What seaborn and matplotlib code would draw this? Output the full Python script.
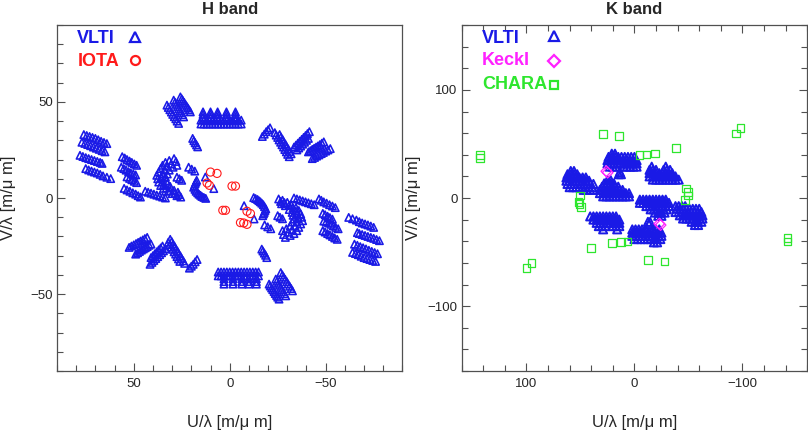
import matplotlib
matplotlib.use('Agg')
import pandas as pd
import matplotlib.pyplot as plt
from matplotlib.ticker import MultipleLocator
import seaborn as sns

# uv points, (U/lambda, V/lambda) in m/um
vlti_h = [
    # upper / left half
    (76, 33), (74.5, 32.5), (73, 32), (71.5, 31.5), (70, 31), (68.5, 30.3), (67, 29.5), (65.5, 28.9), (64, 28.3),
    (77, 29), (75.5, 28.4), (74, 27.8), (72.5, 27.2), (71, 26.5), (69.5, 25.9), (68, 25.3), (66.5, 24.6), (65, 24),
    (78, 22.2), (76.5, 21.6), (75, 21), (73.5, 20.5), (72, 20), (70.5, 19.5), (69, 19), (67.5, 18.5), (66.5, 18),
    (75, 15.3), (73.5, 14.6), (72, 14), (70.5, 13.5), (69, 13), (67.5, 12.3), (66, 11.5), (64, 10.8), (62, 10.1),
    (56, 21.5), (54.7, 20.8), (53.5, 20), (52.2, 19.2), (51, 18.5), (49.7, 17.7), (48.5, 17),
    (56.5, 16), (55.2, 15.3), (54, 14.5), (52.7, 13.7), (51.5, 13), (50.2, 12.5), (49, 12),
    (53.5, 11), (52.2, 10.2), (51, 9.5), (49.7, 8.7), (48.5, 8),
    (55, 5), (53.5, 4.2), (52, 3.5), (50.5, 2.7), (49, 2), (47.7, 1.2), (46.5, 0.5),
    (44, 3.5), (42.5, 3), (41, 2.5), (39.5, 2), (38, 1.5), (36.5, 1), (35, 0.5), (33.5, 0),
    (29, 20.5), (31.5, 19.5), (33.5, 18.5), (35, 17), (36, 15.3), (37, 13.5),
    (38, 11.8), (37.5, 10), (37, 8.3), (36, 6.5), (34.5, 5), (32, 3.5),
    (30, 2.3), (27.5, 1.2), (25.5, 0.5),
    (28, 19), (30.5, 17.8), (32.5, 16.5), (34, 14.5), (35, 12.5), (35.5, 10.5),
    (35, 8.5), (34.5, 6.8), (33, 5.2), (31, 3.8), (28.5, 2.4), (26.5, 1.8),
    (27.5, 17), (29.5, 16), (31.5, 14.5), (32.5, 12.5), (33.5, 11), (33, 9),
    (32.5, 7.5), (31, 6), (29, 4), (27, 3),
    (27.5, 10.8), (26.2, 10), (25, 9.2), (21.4, 16), (19.8, 15), (18.2, 14),
    (19.3, 31), (18.7, 29.8), (18, 28.7), (17.3, 27.6), (16.7, 26.6),
    (17.2, 9.2), (17.6, 8.3), (18, 7.5), (18.4, 6.5), (18.8, 5.6), (18.1, 4.5),
    (17.5, 3.5), (16.7, 2.7), (16, 2), (15.2, 1.4), (14.5, 0.8), (13.5, 0.3),
    (12.5, -0.2), (12.7, 10.9), (8.3, 4.9),
    (15, 38.5), (13.5, 38.5), (12, 38.5), (10.5, 38.5), (9, 38.5), (7.5, 38.5), (6, 38.5), (4.5, 38.5),
    (3, 38.5), (1.5, 38.5), (0, 38.5), (-1.5, 38.5), (-3, 38.5), (-4.5, 38.5), (-6, 38.5),
    (15, 40.5), (13.5, 40.5), (12, 40.5), (10.5, 40.5), (9, 40.5), (7.5, 40.5), (6, 40.5), (4.5, 40.5),
    (3, 40.5), (1.5, 40.5), (0, 40.5), (-1.5, 40.5), (-3, 40.5), (-4.5, 40.5), (-6, 40.5),
    (13.9, 42), (13.9, 43.5), (13.9, 44.8), (10, 42), (10, 43.5), (10, 44.8),
    (6.3, 42), (6.3, 43.5), (6.3, 44.8), (1.7, 42), (1.7, 43.5), (1.7, 44.8),
    (-3, 42), (-3, 43.5), (-3, 44.8),
    (32.7, 48.3), (32, 47.1), (31.2, 45.9), (30.4, 44.7), (29.7, 43.5), (28.9, 42.3), (28.1, 41.2), (27.4, 40), (26.6, 38.8),
    (29.2, 50.9), (28.5, 49.8), (27.9, 48.7), (27.2, 47.6), (26.6, 46.5), (25.9, 45.4), (25.3, 44.4), (24.6, 43.3), (24, 42.2),
    (25.7, 52.6), (25, 51.6), (24.4, 50.7), (23.7, 49.7), (23.1, 48.7), (22.4, 47.7), (21.8, 46.8), (21.1, 45.8), (20.5, 44.8),
    (-17, 32), (-18, 33.2), (-19, 34.5), (-20, 35.5), (-21, 36.5),
    (-23.5, 34), (-24.2, 32.7), (-25, 31.5), (-25.7, 30.2), (-26.5, 29), (-27.2, 27.7),
    (-28, 26.5), (-28.7, 25.2), (-29.5, 24), (-30.2, 22.7), (-31, 21.5),
    (-26, 33), (-26.7, 31.7), (-27.5, 30.5), (-28.2, 29.2), (-29, 28), (-29.7, 26.7),
    (-30.5, 25.5), (-31.2, 24.2), (-32, 23),
    (-33.5, 26.5), (-34.5, 27.5), (-35.5, 28.5), (-36.5, 29.5), (-37.5, 30.5),
    (-38.5, 31.5), (-39.5, 32.5), (-40.5, 33.5), (-41.5, 34.5),
    (-35, 25), (-36, 26), (-37, 27), (-38, 28), (-39, 29), (-40, 30), (-41, 31),
    (-41, 24), (-42, 24.6), (-43, 25.3), (-44, 25.9), (-45, 26.5), (-46, 27.1),
    (-47, 27.8), (-48, 28.5), (-49, 29.2),
    (-43, 20.5), (-44.2, 21.1), (-45.3, 21.8), (-46.5, 22.4), (-47.7, 23.1),
    (-48.8, 23.7), (-50, 24.4), (-51.2, 25), (-52.4, 25.7),
    # lower / right half
    (-76, -33), (-74.5, -32.5), (-73, -32), (-71.5, -31.5), (-70, -31), (-68.5, -30.3), (-67, -29.5), (-65.5, -28.9), (-64, -28.3),
    (-77, -29), (-75.5, -28.4), (-74, -27.8), (-72.5, -27.2), (-71, -26.5), (-69.5, -25.9), (-68, -25.3), (-66.5, -24.6), (-65, -24),
    (-78, -22.2), (-76.5, -21.6), (-75, -21), (-73.5, -20.5), (-72, -20), (-70.5, -19.5), (-69, -19), (-67.5, -18.5), (-66.5, -18),
    (-75, -15.3), (-73.5, -14.6), (-72, -14), (-70.5, -13.5), (-69, -13), (-67.5, -12.3), (-66, -11.5), (-64, -10.8), (-62, -10.1),
    (-56, -21.5), (-54.7, -20.8), (-53.5, -20), (-52.2, -19.2), (-51, -18.5), (-49.7, -17.7), (-48.5, -17),
    (-56.5, -16), (-55.2, -15.3), (-54, -14.5), (-52.7, -13.7), (-51.5, -13), (-50.2, -12.5), (-49, -12),
    (-53.5, -11), (-52.2, -10.2), (-51, -9.5), (-49.7, -8.7), (-48.5, -8),
    (-55, -5), (-53.5, -4.2), (-52, -3.5), (-50.5, -2.7), (-49, -2), (-47.7, -1.2), (-46.5, -0.5),
    (-44, -3.5), (-42.5, -3), (-41, -2.5), (-39.5, -2), (-38, -1.5), (-36.5, -1), (-35, -0.5), (-33.5, 0),
    (-29, -20.5), (-31.5, -19.5), (-33.5, -18.5), (-35, -17), (-36, -15.3), (-37, -13.5),
    (-38, -11.8), (-37.5, -10), (-37, -8.3), (-36, -6.5), (-34.5, -5), (-32, -3.5),
    (-30, -2.3), (-27.5, -1.2), (-25.5, -0.5),
    (-28, -19), (-30.5, -17.8), (-32.5, -16.5), (-34, -14.5), (-35, -12.5), (-35.5, -10.5),
    (-35, -8.5), (-34.5, -6.8), (-33, -5.2), (-31, -3.8), (-28.5, -2.4), (-26.5, -1.8),
    (-27.5, -17), (-29.5, -16), (-31.5, -14.5), (-32.5, -12.5), (-33.5, -11), (-33, -9),
    (-32.5, -7.5), (-31, -6), (-29, -4), (-27, -3),
    (-27.5, -10.8), (-26.2, -10), (-25, -9.2), (-21.4, -16), (-19.8, -15), (-18.2, -14),
    (-19.3, -31), (-18.7, -29.8), (-18, -28.7), (-17.3, -27.6), (-16.7, -26.6),
    (-17.2, -9.2), (-17.6, -8.3), (-18, -7.5), (-18.4, -6.5), (-18.8, -5.6), (-18.1, -4.5),
    (-17.5, -3.5), (-16.7, -2.7), (-16, -2), (-15.2, -1.4), (-14.5, -0.8), (-13.5, -0.3),
    (-12.5, 0.2), (-12.7, -10.9), (-7.5, -4),
    (-15, -38.5), (-13.5, -38.5), (-12, -38.5), (-10.5, -38.5), (-9, -38.5), (-7.5, -38.5), (-6, -38.5), (-4.5, -38.5),
    (-3, -38.5), (-1.5, -38.5), (0, -38.5), (1.5, -38.5), (3, -38.5), (4.5, -38.5), (6, -38.5),
    (-15, -40.5), (-13.5, -40.5), (-12, -40.5), (-10.5, -40.5), (-9, -40.5), (-7.5, -40.5), (-6, -40.5), (-4.5, -40.5),
    (-3, -40.5), (-1.5, -40.5), (0, -40.5), (1.5, -40.5), (3, -40.5), (4.5, -40.5), (6, -40.5),
    (-13.9, -42), (-13.9, -43.5), (-13.9, -44.8), (-10, -42), (-10, -43.5), (-10, -44.8),
    (-6.3, -42), (-6.3, -43.5), (-6.3, -44.8), (-1.7, -42), (-1.7, -43.5), (-1.7, -44.8),
    (3, -42), (3, -43.5), (3, -44.8),
    (-32.7, -48.3), (-32, -47.1), (-31.2, -45.9), (-30.4, -44.7), (-29.7, -43.5), (-28.9, -42.3), (-28.1, -41.2), (-27.4, -40), (-26.6, -38.8),
    (-29.2, -50.9), (-28.5, -49.8), (-27.9, -48.7), (-27.2, -47.6), (-26.6, -46.5), (-25.9, -45.4), (-25.3, -44.4), (-24.6, -43.3), (-24, -42.2),
    (-25.7, -52.6), (-25, -51.6), (-24.4, -50.7), (-23.7, -49.7), (-23.1, -48.7), (-22.4, -47.7), (-21.8, -46.8), (-21.1, -45.8), (-20.5, -44.8),
    (17, -32), (18, -33.2), (19, -34.5), (20, -35.5), (21, -36.5),
    (23.5, -34), (24.2, -32.7), (25, -31.5), (25.7, -30.2), (26.5, -29), (27.2, -27.7),
    (28, -26.5), (28.7, -25.2), (29.5, -24), (30.2, -22.7), (31, -21.5),
    (26, -33), (26.7, -31.7), (27.5, -30.5), (28.2, -29.2), (29, -28), (29.7, -26.7),
    (30.5, -25.5), (31.2, -24.2), (32, -23),
    (33.5, -26.5), (34.5, -27.5), (35.5, -28.5), (36.5, -29.5), (37.5, -30.5),
    (38.5, -31.5), (39.5, -32.5), (40.5, -33.5), (41.5, -34.5),
    (35, -25), (36, -26), (37, -27), (38, -28), (39, -29), (40, -30), (41, -31),
    (41, -24), (42, -24.6), (43, -25.3), (44, -25.9), (45, -26.5), (46, -27.1),
    (47, -27.8), (48, -28.5), (49, -29.2),
    (43, -20.5), (44.2, -21.1), (45.3, -21.8), (46.5, -22.4), (47.7, -23.1),
    (48.8, -23.7), (50, -24.4), (51.2, -25), (52.4, -25.7),
]

iota_h = [
    (10, 13.5), (6.6, 12.8), (11.8, 7.8), (10.6, 6.6), (-1.2, 6.2), (-3, 6.2),
    (3.6, -6.4), (2.2, -6.4), (-9, -6.9), (-10.8, -8.1), (-5.6, -12.8),
    (-7.3, -13), (-9, -13.7),
]

# K band VLTI blobs, as rows: (V, [U, ...])
vlti_k_rows = [
    (25, [59, 56]),
    (22, [62, 59, 56, 53]),
    (19, [63, 60, 57, 54, 51, 48, 45]),
    (16, [63, 60, 57, 54, 51, 48, 45, 42]),
    (13, [62, 59, 56, 53, 50, 47, 44, 41, 38]),
    (10, [60, 57, 54, 51, 48, 45, 42, 39]),
    (7.5, [47, 44, 41, 38]),
    (16.5, [25, 22]),
    (13.5, [28, 25, 22, 19]),
    (10.5, [30, 27, 24, 21, 18, 15]),
    (7.5, [32, 29, 26, 23, 20, 17, 14, 11]),
    (4.5, [32, 29, 26, 23, 20, 17, 14, 11, 8, 5]),
    (1.5, [29, 26, 23, 20, 17, 14, 11, 8, 5]),
    (41, [21, 18]),
    (38, [24, 21, 18, 15, 12, 9, 6, 3, 0]),
    (35, [25, 22, 19, 16, 13, 10, 7, 4, 1, -2]),
    (32, [25, 22, 19, 16, 13, 10, 7, 4, 1, -2]),
    (29, [23, 20, 17, 10, 7, 4, 1, -2]),
    (24, [13.5]), (22, [12.5, 14.5]),
    (29, [-16, -29]),
    (26, [-14, -17, -20, -27, -30, -33]),
    (23, [-14, -17, -20, -23, -26, -29, -32, -35]),
    (20, [-14, -17, -20, -23, -26, -29, -32, -35, -38]),
    (17, [-17, -20, -23, -26, -29, -32, -35, -38, -41]),
    (-25, [-59, -56]),
    (-22, [-62, -59, -56, -53]),
    (-19, [-63, -60, -57, -54, -51, -48, -45]),
    (-16, [-63, -60, -57, -54, -51, -48, -45, -42]),
    (-13, [-62, -59, -56, -53, -50, -47, -44, -41, -38]),
    (-10, [-60, -57, -54, -51, -48, -45, -42, -39]),
    (-7.5, [-47, -44, -41, -38]),
    (-16.5, [-25, -22]),
    (-13.5, [-28, -25, -22, -19]),
    (-10.5, [-30, -27, -24, -21, -18, -15]),
    (-7.5, [-32, -29, -26, -23, -20, -17, -14, -11]),
    (-4.5, [-32, -29, -26, -23, -20, -17, -14, -11, -8, -5]),
    (-1.5, [-29, -26, -23, -20, -17, -14, -11, -8, -5]),
    (-41, [-21, -18]),
    (-38, [-24, -21, -18, -15, -12, -9, -6, -3, 0]),
    (-35, [-25, -22, -19, -16, -13, -10, -7, -4, -1, 2]),
    (-32, [-25, -22, -19, -16, -13, -10, -7, -4, -1, 2]),
    (-29, [-23, -20, -17, -10, -7, -4, -1, 2]),
    (-24, [-13.5]), (-22, [-12.5, -14.5]),
    (-29, [16, 29]),
    (-26, [14, 17, 20, 27, 30, 33]),
    (-23, [14, 17, 20, 23, 26, 29, 32, 35]),
    (-20, [14, 17, 20, 23, 26, 29, 32, 35, 38]),
    (-17, [17, 20, 23, 26, 29, 32, 35, 38, 41]),
]

keck_k = [(26, 24.8), (24.8, 23.5), (-23, -23.8), (-24.2, -25)]

chara_k = [
    (143, 40), (143, 37), (-141.6, -40.2), (-141.6, -36.8),
    (29, 59), (-27.8, -58.8), (14.2, 57.3), (-12.6, -57.2),
    (-4.8, 39.6), (6.3, -40.2), (-11, 40.3), (12.3, -40.5),
    (-19.1, 41.2), (20.7, -41.4), (-38.4, 46.4), (40.3, -46.4),
    (-93.8, 59.8), (95.3, -60), (-98.4, 65), (100, -65),
    (-47.8, 8.7), (-49.6, 5.6), (-49.6, 2.5), (-47.1, -2.1),
    (50.2, 2.5), (51.8, -3.7), (50.8, -5.8), (49.3, -8.4),
]

vlti_k = [(u, v) for v, us in vlti_k_rows for u in us]

BLUE = '#1a1ae6'
RED = '#ff1a1a'
MAGENTA = '#ff22ff'
GREEN = '#2ee62e'
FRAME = '#505050'

sns.set_style('white')
plt.rcParams['font.family'] = ['Liberation Sans', 'DejaVu Sans']

fig = plt.figure(figsize=(8.08, 4.32), dpi=100)
ax_h = fig.add_axes([0.0705, 0.1412, 0.4276, 0.8009])
ax_k = fig.add_axes([0.5714, 0.1412, 0.4276, 0.8009])


def scatter(ax, pts, marker, color, size, lw):
    df = pd.DataFrame(pts, columns=['u', 'v'])
    sns.scatterplot(data=df, x='u', y='v', marker=marker, s=size,
                    facecolor='none', edgecolor=color, linewidth=lw,
                    ax=ax, legend=False)


scatter(ax_h, vlti_h, '^', BLUE, 28, 1.15)
scatter(ax_h, iota_h, 'o', RED, 34, 0.8)

scatter(ax_k, vlti_k, '^', BLUE, 34, 1.4)
scatter(ax_k, keck_k, 'D', MAGENTA, 30, 0.9)
scatter(ax_k, chara_k, 's', GREEN, 30, 0.9)


def style(ax, lim, major, minor, title, boxed):
    ax.set_xlim(lim, -lim)
    ax.set_ylim(-lim, lim)
    ax.xaxis.set_major_locator(MultipleLocator(major))
    ax.yaxis.set_major_locator(MultipleLocator(major))
    ax.xaxis.set_minor_locator(MultipleLocator(minor))
    ax.yaxis.set_minor_locator(MultipleLocator(minor))
    ax.tick_params(which='both', direction='in', color=FRAME, width=0.8,
                   labelsize=9.5, bottom=True, left=True, top=boxed, right=boxed)
    ax.tick_params(which='major', length=5.5)
    ax.tick_params(which='minor', length=4)
    ax.tick_params(axis='x', pad=5)
    ax.tick_params(axis='y', pad=3)
    for sp in ax.spines.values():
        sp.set_color(FRAME)
        sp.set_linewidth(0.9)
    ax.set_title(title, fontsize=12, fontweight='bold', pad=8)
    ax.set_xlabel('U/λ [m/μ m]', fontsize=12)
    ax.set_ylabel('V/λ [m/μ m]', fontsize=12)
    ax.xaxis.set_label_coords(0.5, -0.127)
    ax.yaxis.set_label_coords(-0.118, 0.5)


style(ax_h, 90, 50, 10, 'H band', False)
style(ax_k, 160, 100, 20, 'K band', True)


def legend_entry(ax, y_text, y_mark, label, color, marker, ms, x_mark):
    ax.text(0.059, y_text, label, transform=ax.transAxes, color=color,
            fontsize=13, fontweight='bold', va='center', ha='left')
    ax.plot([x_mark], [y_mark], transform=ax.transAxes, marker=marker,
            ms=ms, mfc='none', mec=color, mew=1.6, ls='none', clip_on=False)


legend_entry(ax_h, 0.9616, 0.966, 'VLTI', BLUE, '^', 7, 0.225)
legend_entry(ax_h, 0.894, 0.899, 'IOTA', RED, 'o', 6.5, 0.225)

legend_entry(ax_k, 0.9616, 0.968, 'VLTI', BLUE, '^', 7, 0.267)
legend_entry(ax_k, 0.897, 0.897, 'KeckI', MAGENTA, 'D', 6, 0.267)
legend_entry(ax_k, 0.827, 0.828, 'CHARA', GREEN, 's', 5.5, 0.267)

fig.savefig('out.png', dpi=100)
